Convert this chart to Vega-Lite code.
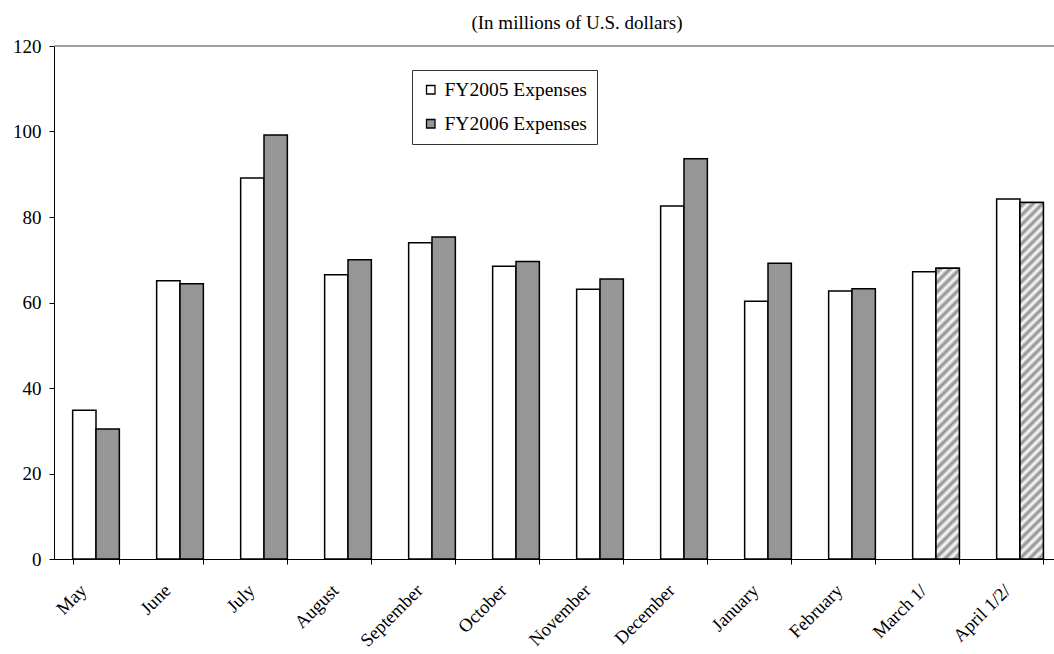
{
  "$schema": "https://vega.github.io/schema/vega-lite/v6.json",
  "autosize": {"type": "none"},
  "width": 1000,
  "height": 513,
  "padding": {"left": 54, "top": 46, "right": 0, "bottom": 95},
  "background": "white",
  "title": {
    "text": "(In millions of U.S. dollars)",
    "font": "Liberation Serif",
    "fontSize": 19,
    "fontWeight": "normal",
    "color": "#000",
    "anchor": "middle",
    "offset": 4,
    "dx": 23
  },
  "config": {"view": {"stroke": null}, "font": "Liberation Serif"},
  "data": {
    "values": [
      {"month": "May", "series": "FY2005 Expenses", "value": 34.8},
      {"month": "May", "series": "FY2006 Expenses", "value": 30.4},
      {"month": "June", "series": "FY2005 Expenses", "value": 65.1},
      {"month": "June", "series": "FY2006 Expenses", "value": 64.4},
      {"month": "July", "series": "FY2005 Expenses", "value": 89.1},
      {"month": "July", "series": "FY2006 Expenses", "value": 99.2},
      {"month": "August", "series": "FY2005 Expenses", "value": 66.5},
      {"month": "August", "series": "FY2006 Expenses", "value": 70.0},
      {"month": "September", "series": "FY2005 Expenses", "value": 74.0},
      {"month": "September", "series": "FY2006 Expenses", "value": 75.3},
      {"month": "October", "series": "FY2005 Expenses", "value": 68.5},
      {"month": "October", "series": "FY2006 Expenses", "value": 69.6},
      {"month": "November", "series": "FY2005 Expenses", "value": 63.1},
      {"month": "November", "series": "FY2006 Expenses", "value": 65.5},
      {"month": "December", "series": "FY2005 Expenses", "value": 82.6},
      {"month": "December", "series": "FY2006 Expenses", "value": 93.6},
      {"month": "January", "series": "FY2005 Expenses", "value": 60.3},
      {"month": "January", "series": "FY2006 Expenses", "value": 69.2},
      {"month": "February", "series": "FY2005 Expenses", "value": 62.7},
      {"month": "February", "series": "FY2006 Expenses", "value": 63.2},
      {"month": "March 1/", "series": "FY2005 Expenses", "value": 67.2},
      {"month": "March 1/", "series": "FY2006 Expenses", "value": 68.0},
      {"month": "April 1/2/", "series": "FY2005 Expenses", "value": 84.2},
      {"month": "April 1/2/", "series": "FY2006 Expenses", "value": 83.4}
    ]
  },
  "layer": [
    {
      "data": {"values": [{}]},
      "mark": {"type": "rule", "color": "#808080", "strokeWidth": 1.6},
      "encoding": {"y": {"datum": 120, "type": "quantitative"}}
    },
    {
      "mark": {"type": "bar", "stroke": "#000", "strokeWidth": 1.5},
      "encoding": {
        "x": {
          "field": "month", "type": "nominal", "sort": null,
          "scale": {"type": "band", "range": [0, 1008], "paddingInner": 0.444, "paddingOuter": 0.222},
          "axis": {
            "title": null, "tickBand": "extent", "labelAngle": -45, "labelAlign": "right",
            "labelBaseline": "middle", "labelPadding": 23, "labelOffset": -13,
            "labelFont": "Liberation Serif", "labelFontSize": 18.5, "labelColor": "#000",
            "tickSize": 5, "tickColor": "#000", "domainColor": "#000", "labelLimit": 200
          }
        },
        "xOffset": {"field": "series", "type": "nominal", "scale": {"domain": ["FY2005 Expenses", "FY2006 Expenses"]}},
        "y": {
          "field": "value", "type": "quantitative",
          "scale": {"domain": [0, 120], "nice": false},
          "axis": {
            "title": null, "values": [0, 20, 40, 60, 80, 100, 120], "grid": false,
            "domainColor": "#000", "tickColor": "#000", "tickSize": 5, "labelPadding": 8,
            "labelFont": "Liberation Serif", "labelFontSize": 19, "labelColor": "#000"
          }
        },
        "fill": {
          "field": "series", "type": "nominal",
          "scale": {"domain": ["FY2005 Expenses", "FY2006 Expenses"], "range": ["#ffffff", "#969696"]},
          "legend": {
            "title": null, "orient": "none", "legendX": 358, "legendY": 24, "direction": "vertical",
            "strokeColor": "#333", "fillColor": "#fff", "padding": 10,
            "symbolType": "square", "symbolSize": 72, "symbolStrokeColor": "#000", "symbolStrokeWidth": 1.3,
            "symbolOffset": -1, "labelOffset": 4, "labelFont": "Liberation Serif", "labelFontSize": 19.5,
            "labelColor": "#000", "rowPadding": 13
          }
        }
      }
    },
    {
      "transform": [{"filter": "datum.month === 'March 1/' && datum.series === 'FY2006 Expenses'"}],
      "mark": {
        "type": "bar", "stroke": "#000", "strokeWidth": 1.5,
        "fill": {
          "gradient": "linear", "x1": 0, "y1": 0, "x2": 0.0862, "y2": 1.0734,
          "stops": [
            {"offset": 0, "color": "#fff"}, {"offset": 0.015625, "color": "#8c8c8c"},
            {"offset": 0.03125, "color": "#fff"}, {"offset": 0.046875, "color": "#8c8c8c"},
            {"offset": 0.0625, "color": "#fff"}, {"offset": 0.078125, "color": "#8c8c8c"},
            {"offset": 0.09375, "color": "#fff"}, {"offset": 0.109375, "color": "#8c8c8c"},
            {"offset": 0.125, "color": "#fff"}, {"offset": 0.140625, "color": "#8c8c8c"},
            {"offset": 0.15625, "color": "#fff"}, {"offset": 0.171875, "color": "#8c8c8c"},
            {"offset": 0.1875, "color": "#fff"}, {"offset": 0.203125, "color": "#8c8c8c"},
            {"offset": 0.21875, "color": "#fff"}, {"offset": 0.234375, "color": "#8c8c8c"},
            {"offset": 0.25, "color": "#fff"}, {"offset": 0.265625, "color": "#8c8c8c"},
            {"offset": 0.28125, "color": "#fff"}, {"offset": 0.296875, "color": "#8c8c8c"},
            {"offset": 0.3125, "color": "#fff"}, {"offset": 0.328125, "color": "#8c8c8c"},
            {"offset": 0.34375, "color": "#fff"}, {"offset": 0.359375, "color": "#8c8c8c"},
            {"offset": 0.375, "color": "#fff"}, {"offset": 0.390625, "color": "#8c8c8c"},
            {"offset": 0.40625, "color": "#fff"}, {"offset": 0.421875, "color": "#8c8c8c"},
            {"offset": 0.4375, "color": "#fff"}, {"offset": 0.453125, "color": "#8c8c8c"},
            {"offset": 0.46875, "color": "#fff"}, {"offset": 0.484375, "color": "#8c8c8c"},
            {"offset": 0.5, "color": "#fff"}, {"offset": 0.515625, "color": "#8c8c8c"},
            {"offset": 0.53125, "color": "#fff"}, {"offset": 0.546875, "color": "#8c8c8c"},
            {"offset": 0.5625, "color": "#fff"}, {"offset": 0.578125, "color": "#8c8c8c"},
            {"offset": 0.59375, "color": "#fff"}, {"offset": 0.609375, "color": "#8c8c8c"},
            {"offset": 0.625, "color": "#fff"}, {"offset": 0.640625, "color": "#8c8c8c"},
            {"offset": 0.65625, "color": "#fff"}, {"offset": 0.671875, "color": "#8c8c8c"},
            {"offset": 0.6875, "color": "#fff"}, {"offset": 0.703125, "color": "#8c8c8c"},
            {"offset": 0.71875, "color": "#fff"}, {"offset": 0.734375, "color": "#8c8c8c"},
            {"offset": 0.75, "color": "#fff"}, {"offset": 0.765625, "color": "#8c8c8c"},
            {"offset": 0.78125, "color": "#fff"}, {"offset": 0.796875, "color": "#8c8c8c"},
            {"offset": 0.8125, "color": "#fff"}, {"offset": 0.828125, "color": "#8c8c8c"},
            {"offset": 0.84375, "color": "#fff"}, {"offset": 0.859375, "color": "#8c8c8c"},
            {"offset": 0.875, "color": "#fff"}, {"offset": 0.890625, "color": "#8c8c8c"},
            {"offset": 0.90625, "color": "#fff"}, {"offset": 0.921875, "color": "#8c8c8c"},
            {"offset": 0.9375, "color": "#fff"}, {"offset": 0.953125, "color": "#8c8c8c"},
            {"offset": 0.96875, "color": "#fff"}, {"offset": 0.984375, "color": "#8c8c8c"},
            {"offset": 1, "color": "#fff"}
          ]
        }
      },
      "encoding": {
        "x": {"field": "month", "type": "nominal", "sort": null},
        "xOffset": {"field": "series", "type": "nominal"},
        "y": {"field": "value", "type": "quantitative"}
      }
    },
    {
      "transform": [{"filter": "datum.month === 'April 1/2/' && datum.series === 'FY2006 Expenses'"}],
      "mark": {
        "type": "bar", "stroke": "#000", "strokeWidth": 1.5,
        "fill": {
          "gradient": "linear", "x1": 0, "y1": 0, "x2": 0.0695, "y2": 1.061,
          "stops": [
            {"offset": 0, "color": "#fff"}, {"offset": 0.0125, "color": "#8c8c8c"},
            {"offset": 0.025, "color": "#fff"}, {"offset": 0.0375, "color": "#8c8c8c"},
            {"offset": 0.05, "color": "#fff"}, {"offset": 0.0625, "color": "#8c8c8c"},
            {"offset": 0.075, "color": "#fff"}, {"offset": 0.0875, "color": "#8c8c8c"},
            {"offset": 0.1, "color": "#fff"}, {"offset": 0.1125, "color": "#8c8c8c"},
            {"offset": 0.125, "color": "#fff"}, {"offset": 0.1375, "color": "#8c8c8c"},
            {"offset": 0.15, "color": "#fff"}, {"offset": 0.1625, "color": "#8c8c8c"},
            {"offset": 0.175, "color": "#fff"}, {"offset": 0.1875, "color": "#8c8c8c"},
            {"offset": 0.2, "color": "#fff"}, {"offset": 0.2125, "color": "#8c8c8c"},
            {"offset": 0.225, "color": "#fff"}, {"offset": 0.2375, "color": "#8c8c8c"},
            {"offset": 0.25, "color": "#fff"}, {"offset": 0.2625, "color": "#8c8c8c"},
            {"offset": 0.275, "color": "#fff"}, {"offset": 0.2875, "color": "#8c8c8c"},
            {"offset": 0.3, "color": "#fff"}, {"offset": 0.3125, "color": "#8c8c8c"},
            {"offset": 0.325, "color": "#fff"}, {"offset": 0.3375, "color": "#8c8c8c"},
            {"offset": 0.35, "color": "#fff"}, {"offset": 0.3625, "color": "#8c8c8c"},
            {"offset": 0.375, "color": "#fff"}, {"offset": 0.3875, "color": "#8c8c8c"},
            {"offset": 0.4, "color": "#fff"}, {"offset": 0.4125, "color": "#8c8c8c"},
            {"offset": 0.425, "color": "#fff"}, {"offset": 0.4375, "color": "#8c8c8c"},
            {"offset": 0.45, "color": "#fff"}, {"offset": 0.4625, "color": "#8c8c8c"},
            {"offset": 0.475, "color": "#fff"}, {"offset": 0.4875, "color": "#8c8c8c"},
            {"offset": 0.5, "color": "#fff"}, {"offset": 0.5125, "color": "#8c8c8c"},
            {"offset": 0.525, "color": "#fff"}, {"offset": 0.5375, "color": "#8c8c8c"},
            {"offset": 0.55, "color": "#fff"}, {"offset": 0.5625, "color": "#8c8c8c"},
            {"offset": 0.575, "color": "#fff"}, {"offset": 0.5875, "color": "#8c8c8c"},
            {"offset": 0.6, "color": "#fff"}, {"offset": 0.6125, "color": "#8c8c8c"},
            {"offset": 0.625, "color": "#fff"}, {"offset": 0.6375, "color": "#8c8c8c"},
            {"offset": 0.65, "color": "#fff"}, {"offset": 0.6625, "color": "#8c8c8c"},
            {"offset": 0.675, "color": "#fff"}, {"offset": 0.6875, "color": "#8c8c8c"},
            {"offset": 0.7, "color": "#fff"}, {"offset": 0.7125, "color": "#8c8c8c"},
            {"offset": 0.725, "color": "#fff"}, {"offset": 0.7375, "color": "#8c8c8c"},
            {"offset": 0.75, "color": "#fff"}, {"offset": 0.7625, "color": "#8c8c8c"},
            {"offset": 0.775, "color": "#fff"}, {"offset": 0.7875, "color": "#8c8c8c"},
            {"offset": 0.8, "color": "#fff"}, {"offset": 0.8125, "color": "#8c8c8c"},
            {"offset": 0.825, "color": "#fff"}, {"offset": 0.8375, "color": "#8c8c8c"},
            {"offset": 0.85, "color": "#fff"}, {"offset": 0.8625, "color": "#8c8c8c"},
            {"offset": 0.875, "color": "#fff"}, {"offset": 0.8875, "color": "#8c8c8c"},
            {"offset": 0.9, "color": "#fff"}, {"offset": 0.9125, "color": "#8c8c8c"},
            {"offset": 0.925, "color": "#fff"}, {"offset": 0.9375, "color": "#8c8c8c"},
            {"offset": 0.95, "color": "#fff"}, {"offset": 0.9625, "color": "#8c8c8c"},
            {"offset": 0.975, "color": "#fff"}, {"offset": 0.9875, "color": "#8c8c8c"},
            {"offset": 1, "color": "#fff"}
          ]
        }
      },
      "encoding": {
        "x": {"field": "month", "type": "nominal", "sort": null},
        "xOffset": {"field": "series", "type": "nominal"},
        "y": {"field": "value", "type": "quantitative"}
      }
    }
  ]
}
